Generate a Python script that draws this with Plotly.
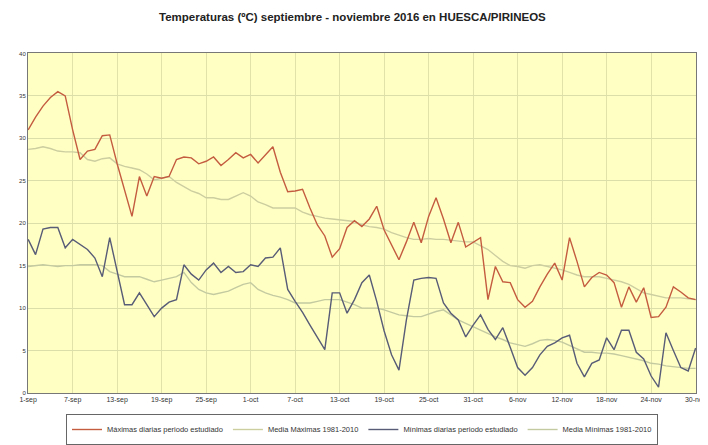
import plotly.graph_objects as go

# Tick labels (every 6 days, day index 0 = 1 sep)
tick_days = [0, 6, 12, 18, 24, 30, 36, 42, 48, 54, 60, 66, 72, 78, 84, 90]
tick_labels = ["1-sep", "7-sep", "13-sep", "19-sep", "25-sep", "1-oct", "7-oct",
               "13-oct", "19-oct", "25-oct", "31-oct", "6-nov", "12-nov",
               "18-nov", "24-nov", "30-nov"]

# Daily values 1 sep - 30 nov 2016 (91 days)
max_diarias = [31.0, 32.5, 33.8, 34.8, 35.5, 35.0, 31.0, 27.5, 28.5, 28.7,
               30.3, 30.4, 27.0, 24.0, 20.8, 25.5, 23.2, 25.5, 25.3, 25.5,
               27.5, 27.8, 27.7, 27.0, 27.3, 27.8, 26.8, 27.5, 28.3, 27.7,
               28.1, 27.1, 28.0, 29.0, 26.0, 23.7, 23.8, 24.0, 21.8, 19.8,
               18.5, 16.0, 17.0, 19.5, 20.3, 19.6, 20.5, 22.0, 19.2, 17.5,
               15.7, 17.8, 20.1, 17.7, 20.8, 23.0, 20.5, 17.7, 20.1, 17.2,
               17.8, 18.3, 11.0, 14.9, 13.1, 13.0, 11.0, 10.1, 10.8, 12.5,
               14.0, 15.3, 13.3, 18.3, 15.5, 12.5, 13.6, 14.2, 13.9, 13.0,
               10.1, 12.5, 10.7, 12.4, 8.9, 9.0, 10.1, 12.5, 11.9, 11.2,
               11.0]

media_max = [28.7, 28.8, 29.0, 28.8, 28.5, 28.4, 28.4, 28.3, 27.5, 27.3,
             27.6, 27.7, 27.0, 26.7, 26.5, 26.3, 25.8, 25.1, 25.3, 25.5,
             24.8, 24.3, 23.8, 23.5, 23.0, 23.0, 22.8, 22.8, 23.2, 23.6,
             23.2, 22.5, 22.2, 21.8, 21.8, 21.8, 21.8, 21.3, 21.0, 20.8,
             20.6, 20.5, 20.4, 20.3, 20.2, 19.8, 19.6, 19.5, 19.3, 18.9,
             18.6, 18.3, 18.1, 18.1, 18.2, 18.1, 18.1, 18.0, 17.9, 17.8,
             17.8, 17.3, 16.9, 16.2, 15.5, 15.0, 14.9, 14.7, 15.0, 15.1,
             14.9, 14.7, 14.5, 14.2, 13.9, 13.7, 13.7, 13.7, 13.5, 13.3,
             13.1, 12.8, 12.3, 11.8, 11.6, 11.4, 11.2, 11.2, 11.2, 11.1,
             11.0]

min_diarias = [18.1, 16.3, 19.3, 19.5, 19.5, 17.1, 18.1, 17.5, 16.9, 15.9,
               13.7, 18.3, 14.5, 10.4, 10.4, 11.8, 10.4, 9.0, 10.0, 10.7,
               11.0, 15.1, 14.0, 13.3, 14.5, 15.3, 14.2, 14.9, 14.2, 14.3,
               15.1, 14.9, 15.9, 16.0, 17.1, 12.2, 10.8, 9.5, 8.0, 6.5,
               5.1, 11.8, 11.8, 9.4, 11.0, 13.0, 13.9, 10.8, 7.3, 4.5,
               2.7, 8.6, 13.3, 13.5, 13.6, 13.5, 10.6, 9.4, 8.6, 6.6,
               8.0, 9.2, 7.5, 6.3, 7.7, 5.4, 3.0, 2.1, 3.0, 4.5,
               5.5, 5.9, 6.5, 6.8, 3.5, 1.9, 3.5, 3.9, 6.5, 5.1,
               7.4, 7.4, 4.8, 4.0, 2.0, 0.7, 7.1, 5.0, 3.0, 2.6,
               5.3]

media_min = [14.9, 15.0, 15.1, 15.0, 14.9, 15.0, 15.0, 15.1, 15.1, 15.1,
             15.0, 14.3, 14.0, 13.7, 13.7, 13.7, 13.4, 13.1, 13.3, 13.5,
             13.7, 14.2, 13.0, 12.2, 11.8, 11.6, 11.8, 12.0, 12.4, 12.8,
             13.0, 12.2, 11.8, 11.5, 11.3, 11.0, 10.6, 10.6, 10.6, 10.8,
             11.0, 11.0, 11.0, 10.7, 10.4, 10.0, 10.0, 10.0, 9.8, 9.5,
             9.2, 9.1, 9.0, 9.0, 9.3, 9.6, 9.8, 9.2, 8.6, 8.2,
             7.8, 7.4, 7.0, 6.6, 6.3, 5.9, 5.7, 5.5, 5.8, 6.2,
             6.3, 6.2, 6.0, 5.6, 5.2, 4.8, 4.8, 4.7, 4.7, 4.6,
             4.4, 4.2, 4.0, 3.8, 3.5, 3.4, 3.2, 3.1, 3.0, 2.9,
             2.9]

days = list(range(len(max_diarias)))

series = [
    ("Máximas diarias periodo estudiado", max_diarias, "rgb(196,92,64)", 1.4),
    ("Media Máximas 1981-2010", media_max, "rgb(204,206,160)", 1.4),
    ("Mínimas diarias periodo estudiado", min_diarias, "rgb(88,92,118)", 1.4),
    ("Media Mínimas 1981-2010", media_min, "rgb(196,202,160)", 1.4),
]

fig = go.Figure()
# draw medias first so daily lines are on top
for idx in [1, 3, 0, 2]:
    name, vals, col, w = series[idx]
    fig.add_trace(go.Scatter(x=days, y=vals, mode="lines", name=name,
                             line=dict(color=col, width=w), legendrank=idx + 1))

# page body has an 8px margin, so the figure is sized to fit the window
fig.update_layout(
    width=700, height=437,
    margin=dict(l=16, r=11, t=45, b=52),
    paper_bgcolor="white",
    plot_bgcolor="rgb(255,255,196)",
    font=dict(family="Liberation Sans, Arial, sans-serif", size=7, color="#333"),
    title=dict(text="<b>Temperaturas (ºC) septiembre - noviembre 2016 en HUESCA/PIRINEOS</b>",
               x=0.492, xanchor="center", y=0.979, yanchor="middle",
               font=dict(size=11.5, color="#222")),
    showlegend=True,
    legend=dict(orientation="h", x=0.5, xanchor="center",
                yref="container", y=0.0, yanchor="bottom",
                bordercolor="#666", borderwidth=1, bgcolor="white",
                font=dict(size=7.5, color="#333"), traceorder="normal",
                itemwidth=30),
    xaxis=dict(range=[-0.02, 90.05], tickmode="array", tickvals=tick_days, ticktext=tick_labels,
               showgrid=True, gridcolor="rgb(224,226,170)", gridwidth=1,
               showline=True, linecolor="#777", linewidth=1, mirror=True,
               zeroline=False, ticks="", tickfont=dict(size=7),
               ticklabeloverflow="allow", automargin=False),
    yaxis=dict(range=[0, 40.05], tickmode="array", tickvals=list(range(0, 41, 5)),
               showgrid=True, gridcolor="rgb(220,222,170)", gridwidth=1,
               showline=True, linecolor="#777", linewidth=1, mirror=True,
               zeroline=False, ticks="", tickfont=dict(size=6)),
)

fig.write_html("out.html")
